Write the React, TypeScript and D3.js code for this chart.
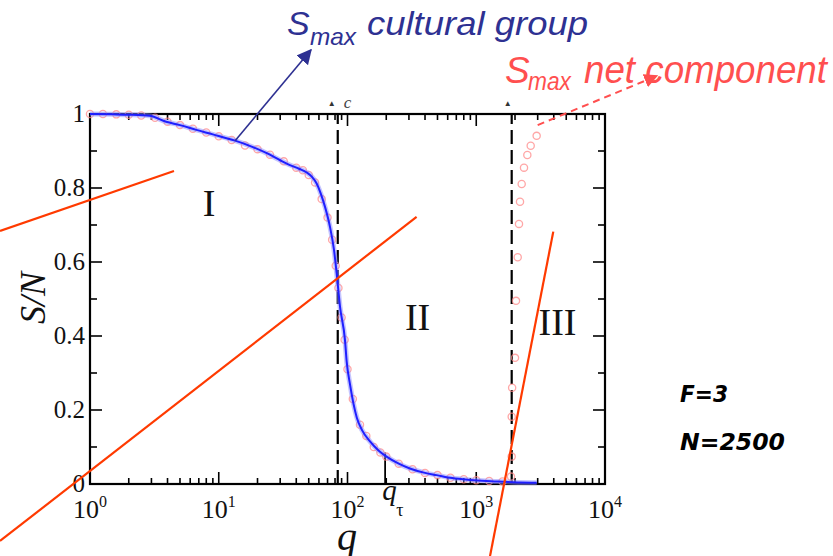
import React from "react";
import * as d3 from "d3";

// ---------- data ----------
const blueQ = [1, 1.5, 2, 2.9, 3.9, 5, 6.7, 9, 13.4, 18, 23.6, 30, 35.7, 42, 48.2, 53, 57.6, 62, 66.9, 73.1, 78.6, 82.4, 87.5, 95.6, 98.6, 104.5, 118, 130, 149.5, 175, 201, 250, 305, 400, 493, 650, 894, 1200, 1614, 2200, 2950];
const blueS = [1.0, 0.999, 0.998, 0.995, 0.979, 0.97, 0.957, 0.945, 0.928, 0.912, 0.894, 0.875, 0.862, 0.852, 0.842, 0.83, 0.812, 0.785, 0.749, 0.695, 0.632, 0.569, 0.479, 0.389, 0.33, 0.27, 0.18, 0.145, 0.115, 0.09, 0.074, 0.055, 0.042, 0.03, 0.024, 0.016, 0.011, 0.008, 0.006, 0.004, 0.0035];

const redQ = [1, 1.26, 1.6, 2, 2.5, 3.2, 4, 5, 6.3, 8, 10, 12.6, 16, 20, 25, 32, 40, 45, 50, 56, 63, 70, 76, 81, 85, 90, 95, 100, 110, 125, 140, 160, 180, 200, 250, 320, 400, 500, 630, 800, 1000, 1260, 1600, 1860, 1885, 1885, 1900, 2000, 2036, 2099, 2148, 2187, 2254, 2349, 2493, 2648, 2946];
const redS = [1.0, 1.0, 0.999, 0.998, 0.996, 0.99, 0.979, 0.97, 0.96, 0.95, 0.94, 0.93, 0.915, 0.905, 0.89, 0.872, 0.855, 0.848, 0.835, 0.815, 0.77, 0.72, 0.66, 0.59, 0.53, 0.45, 0.39, 0.31, 0.23, 0.16, 0.13, 0.1, 0.085, 0.074, 0.055, 0.04, 0.03, 0.024, 0.017, 0.013, 0.01, 0.008, 0.007, 0.02, 0.074, 0.182, 0.26, 0.341, 0.495, 0.613, 0.703, 0.763, 0.811, 0.855, 0.889, 0.914, 0.941];

const xMajor = [1, 10, 100, 1000, 10000];
const xExponents = ["0", "1", "2", "3", "4"];
const yMajor = [0, 0.2, 0.4, 0.6, 0.8, 1];
const yLabels = ["0", "0.2", "0.4", "0.6", "0.8", "1"];
const yMinor = [0.1, 0.3, 0.5, 0.7, 0.9];

const qC = 84;
const qStar = 1885;
const qTau = 196;
const qTauTop = 0.085;

// region labels
const regionNames = ["I", "II", "III"];
const regionQ = [8.4, 350, 4276];
const regionS = [0.724, 0.416, 0.403];

// red annotation strokes (data coordinates, extending beyond axes)
const redStrokes = [
  [[0.2, 0.684], [4.49, 0.846]],
  [[0.2, -0.154], [344, 0.722]],
  [[3966, 0.682], [1279, -0.195]],
];
const blueArrow = [[13.4, 0.928], [52, 1.173]];
const redArrow = [[3000, 0.97], [25300, 1.103]];

// ---------- component ----------
export default function App() {
  const W = 833, H = 556;
  const x = d3.scaleLog().domain([1, 1e4]).range([90, 605]);
  const y = d3.scaleLinear().domain([0, 1]).range([484, 114]);
  const [x0, x1] = x.range();
  const [y0, y1] = y.range();

  const blue = blueQ.map((q, i) => ({ q, s: blueS[i] }));
  const red = redQ.map((q, i) => ({ q, s: redS[i] }));
  const line = d3.line<{ q: number; s: number }>()
    .x((d) => x(d.q))
    .y((d) => y(d.s))
    .curve(d3.curveMonotoneX);

  const minors: number[] = [];
  for (let k = 0; k < 4; k++) for (let m = 2; m <= 9; m++) minors.push(m * Math.pow(10, k));

  const serif = "'Liberation Serif', 'Times New Roman', serif";
  const sans = "'Liberation Sans', Arial, sans-serif";
  const blueC = "#2e3192";
  const redT = "#ff4f4f";
  const redL = "#ff3a00";

  return (
    <svg width={W} height={H} style={{ position: "absolute", left: 0, top: 0, background: "#fff" }}>
      <defs>
        <marker id="ar" viewBox="0 0 10 10" refX="9" refY="5" markerWidth="14" markerHeight="14" orient="auto" markerUnits="userSpaceOnUse">
          <path d="M0,0 L10,5 L0,10 z" fill={redT} />
        </marker>
        <marker id="ab2" viewBox="0 0 10 10" refX="9" refY="5" markerWidth="15" markerHeight="15" orient="auto" markerUnits="userSpaceOnUse">
          <path d="M0,0 L10,5 L0,10 z" fill={blueC} />
        </marker>
      </defs>

      {/* ticks */}
      <g stroke="#000" strokeWidth={1.6}>
        {xMajor.map((q) => (
          <g key={"xm" + q}>
            <line x1={x(q)} x2={x(q)} y1={y0} y2={y0 - 12} />
            <line x1={x(q)} x2={x(q)} y1={y1} y2={y1 + 12} />
          </g>
        ))}
        {minors.map((q) => (
          <g key={"xn" + q}>
            <line x1={x(q)} x2={x(q)} y1={y0} y2={y0 - 6} />
            <line x1={x(q)} x2={x(q)} y1={y1} y2={y1 + 6} />
          </g>
        ))}
        {yMajor.map((s) => (
          <g key={"ym" + s}>
            <line x1={x0} x2={x0 + 12} y1={y(s)} y2={y(s)} />
            <line x1={x1} x2={x1 - 12} y1={y(s)} y2={y(s)} />
          </g>
        ))}
        {yMinor.map((s) => (
          <g key={"yn" + s}>
            <line x1={x0} x2={x0 + 7} y1={y(s)} y2={y(s)} />
            <line x1={x1} x2={x1 - 7} y1={y(s)} y2={y(s)} />
          </g>
        ))}
      </g>

      {/* frame */}
      <rect x={x0} y={y1} width={x1 - x0} height={y0 - y1} fill="none" stroke="#000" strokeWidth={2.2} />

      {/* tick labels */}
      <g fontFamily={serif} fill="#111">
        {xMajor.map((q, i) => (
          <text key={"xl" + q} x={x(q)} y={518} fontSize={26} textAnchor="middle">
            10<tspan fontSize={16} dy={-11}>{xExponents[i]}</tspan>
          </text>
        ))}
        {yMajor.map((s, i) => (
          <text key={"yl" + s} x={85} y={y(s) + 8} fontSize={25} textAnchor="end">
            {yLabels[i]}
          </text>
        ))}
      </g>

      {/* axis titles */}
      <text x={347} y={550} fontFamily={serif} fontStyle="italic" fontSize={40} textAnchor="middle" fill="#111">q</text>
      <text transform="translate(45,298) rotate(-90)" fontFamily={serif} fontStyle="italic" fontSize={36} textAnchor="middle" fill="#111">S/N</text>
      <text x={x(qTau) - 3} y={500} fontFamily={serif} fontStyle="italic" fontSize={29} fill="#111">q</text>
      <text x={x(qTau) + 11} y={516} fontFamily={serif} fontSize={18} fill="#111">τ</text>

      {/* clipped top labels */}
      <text x={x(qC) - 6} y={106} fontSize={8} fill="#333" textAnchor="middle">▲</text>
      <text x={x(qC) + 6} y={108} fontFamily={serif} fontStyle="italic" fontSize={17} fill="#444">c</text>
      <text x={x(qStar) - 4} y={106} fontSize={8} fill="#333" textAnchor="middle">▲</text>

      {/* dashed phase boundaries */}
      <g stroke="#000" strokeWidth={2.2} strokeDasharray="14,6">
        <line x1={x(qC)} x2={x(qC)} y1={y0} y2={y1} />
        <line x1={x(qStar)} x2={x(qStar)} y1={y0} y2={y1} />
      </g>
      <line x1={x(qTau)} x2={x(qTau)} y1={y0} y2={y(qTauTop)} stroke="#000" strokeWidth={1.8} />

      {/* red net component markers */}
      <g fill="none" stroke="#ff8a8a" strokeWidth={1.3} opacity={0.75}>
        {red.map((d, i) => (
          <circle key={"r" + i} cx={x(d.q)} cy={y(d.s)} r={3.6} />
        ))}
      </g>

      {/* blue cultural group curve */}
      <path d={line(blue) || ""} fill="none" stroke="#8c8cff" strokeWidth={5} opacity={0.5} />
      <path d={line(blue) || ""} fill="none" stroke="#1f1fff" strokeWidth={2} />

      {/* region labels */}
      {regionNames.map((n, i) => (
        <text key={n} x={x(regionQ[i])} y={y(regionS[i])} fontFamily={serif} fontSize={38} textAnchor="middle" fill="#111">{n}</text>
      ))}

      {/* red annotation strokes */}
      <g stroke={redL} strokeWidth={2.2}>
        {redStrokes.map((s, i) => (
          <line key={"rs" + i} x1={x(s[0][0])} y1={y(s[0][1])} x2={x(s[1][0])} y2={y(s[1][1])} />
        ))}
      </g>

      {/* arrows */}
      <line x1={x(blueArrow[0][0])} y1={y(blueArrow[0][1])} x2={x(blueArrow[1][0])} y2={y(blueArrow[1][1])} stroke={blueC} strokeWidth={1.6} markerEnd="url(#ab2)" />
      <line x1={x(redArrow[0][0])} y1={y(redArrow[0][1])} x2={x(redArrow[1][0])} y2={y(redArrow[1][1])} stroke={redT} strokeWidth={2} strokeDasharray="7,5" markerEnd="url(#ar)" />

      {/* annotation texts */}
      <g fontFamily={sans} fontStyle="italic" fill={blueC}>
        <text x={287} y={35} fontSize={34}>S</text>
        <text x={310} y={45} fontSize={24} textLength={46} lengthAdjust="spacingAndGlyphs">max</text>
        <text x={367} y={35} fontSize={34} textLength={221} lengthAdjust="spacingAndGlyphs">cultural group</text>
      </g>
      <g fontFamily={sans} fontStyle="italic" fill={redT}>
        <text x={505} y={83} fontSize={37}>S</text>
        <text x={528} y={90} fontSize={25} textLength={43} lengthAdjust="spacingAndGlyphs">max</text>
        <text x={584} y={83} fontSize={38} textLength={243} lengthAdjust="spacingAndGlyphs">net component</text>
      </g>

      <g fontFamily="'DejaVu Sans', sans-serif" fontWeight="bold" fontStyle="italic" fill="#000">
        <text x={680} y={402} fontSize={23} textLength={48} lengthAdjust="spacingAndGlyphs">F=3</text>
        <text x={680} y={450} fontSize={23} textLength={105} lengthAdjust="spacingAndGlyphs">N=2500</text>
      </g>
    </svg>
  );
}
